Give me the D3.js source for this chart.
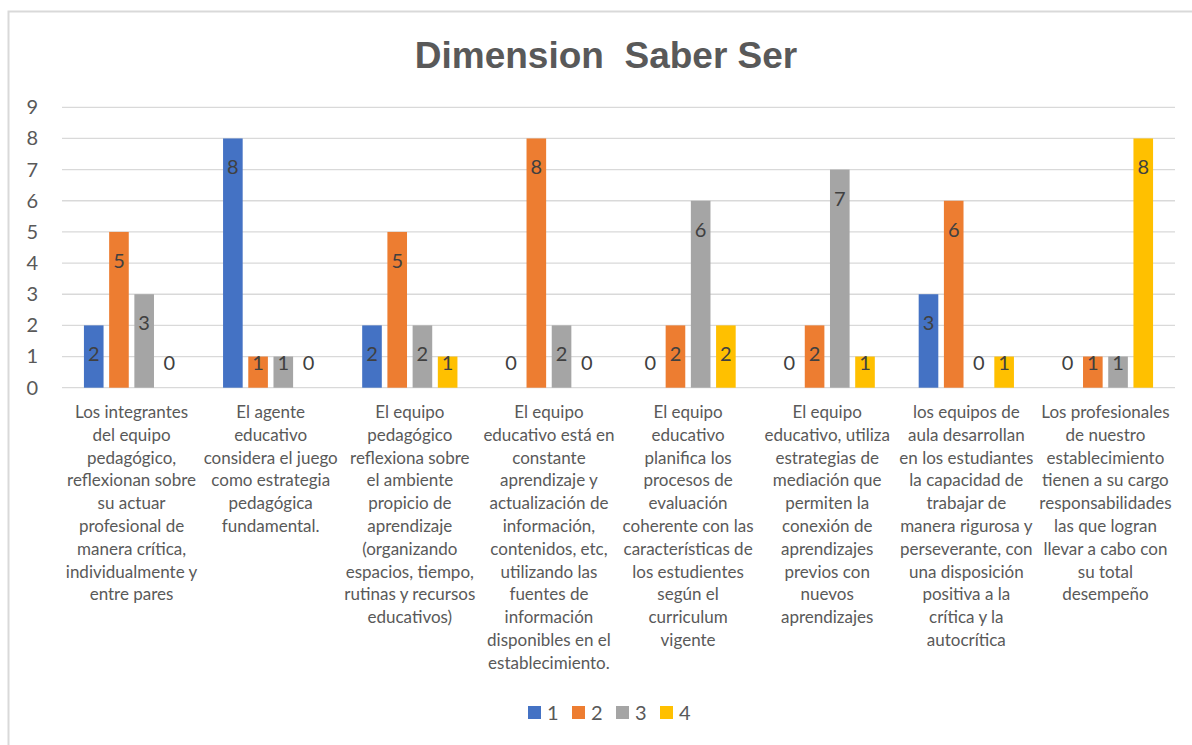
<!DOCTYPE html>
<html lang="es">
<head>
<meta charset="utf-8">
<script src="https://d3js.org/d3.v7.min.js"></script>
<style>
  body { margin: 0; background: #fff; }
  svg text { font-family: Lato, "Open Sans", sans-serif; }
</style>
</head>
<body>
<script>
    // categories (line breaks as in the original chart)
    const categories = [
        ["Los integrantes", "del equipo", "pedagógico,", "reflexionan sobre", "su actuar", "profesional de", "manera crítica,", "individualmente y", "entre pares"],
        ["El agente", "educativo", "considera el juego", "como estrategia", "pedagógica", "fundamental."],
        ["El equipo", "pedagógico", "reflexiona sobre", "el ambiente", "propicio de", "aprendizaje", "(organizando", "espacios, tiempo,", "rutinas y recursos", "educativos)"],
        ["El equipo", "educativo está en", "constante", "aprendizaje y", "actualización de", "información,", "contenidos, etc,", "utilizando las", "fuentes de", "información", "disponibles en el", "establecimiento."],
        ["El equipo", "educativo", "planifica los", "procesos de", "evaluación", "coherente con las", "características de", "los estudientes", "según el", "curriculum", "vigente"],
        ["El equipo", "educativo, utiliza", "estrategias de", "mediación que", "permiten la", "conexión de", "aprendizajes", "previos con", "nuevos", "aprendizajes"],
        ["los equipos de", "aula desarrollan", "en los estudiantes", "la capacidad de", "trabajar de", "manera rigurosa y", "perseverante, con", "una disposición", "positiva a la", "crítica y la", "autocrítica"],
        ["Los profesionales", "de nuestro", "establecimiento", "tienen a su cargo", "responsabilidades", "las que logran", "llevar a cabo con", "su total", "desempeño"]
    ];
    const seriesNames = ["1", "2", "3", "4"];
    const seriesColors = ["#4472C4", "#ED7D31", "#A5A5A5", "#FFC000"];
    const s1 = [2, 8, 2, 0, 0, 0, 3, 0];
    const s2 = [5, 1, 5, 8, 2, 2, 6, 1];
    const s3 = [3, 1, 2, 2, 6, 7, 0, 1];
    const s4 = [0, 0, 1, 0, 2, 1, 1, 8];
    const yTicks = [0, 1, 2, 3, 4, 5, 6, 7, 8, 9];

    const W = 1192, H = 745;
    const plotLeft = 62, plotRight = 1175, plotTop = 107.3, plotBottom = 387.7;
    const seriesVals = [s1, s2, s3, s4];

    const svg = d3.select("body").append("svg")
        .attr("width", W).attr("height", H);

    // outer frame
    svg.append("rect")
        .attr("x", 8.5).attr("y", 11.5)
        .attr("width", 1200).attr("height", 800)
        .attr("fill", "none").attr("stroke", "#d9d9d9").attr("stroke-width", 2);

    // title
    svg.append("text")
        .attr("x", 606).attr("y", 68)
        .attr("text-anchor", "middle")
        .attr("xml:space", "preserve")
        .style("font-family", "'Liberation Sans', Arial, sans-serif")
        .style("font-weight", "bold")
        .style("font-size", "37px")
        .attr("fill", "#595959")
        .text("Dimension  Saber Ser");

    const catIdx = d3.range(categories.length);
    const x0 = d3.scaleBand().domain(catIdx).range([plotLeft, plotRight]).padding(0);
    const x1 = d3.scaleBand().domain(d3.range(seriesNames.length))
        .range([0, x0.bandwidth()]).paddingInner(0.222).paddingOuter(0.87);
    const y = d3.scaleLinear().domain([0, 9]).range([plotBottom, plotTop]);

    // gridlines
    svg.append("g").selectAll("line")
        .data(yTicks)
        .join("line")
        .attr("x1", plotLeft).attr("x2", plotRight)
        .attr("y1", d => y(d)).attr("y2", d => y(d))
        .attr("stroke", "#d9d9d9").attr("stroke-width", 1.3);

    // y axis labels
    const yAxis = svg.append("g")
        .attr("transform", `translate(${plotLeft - 24},0)`)
        .call(d3.axisLeft(y).tickValues(yTicks).tickSize(0).tickPadding(0));
    yAxis.select(".domain").remove();
    yAxis.selectAll("text")
        .style("font-size", "20px")
        .attr("fill", "#595959");

    // bars
    const groups = svg.append("g").selectAll("g")
        .data(catIdx)
        .join("g")
        .attr("transform", i => `translate(${x0(i)},0)`);

    groups.selectAll("rect")
        .data(i => seriesVals.map((s, k) => ({ k, v: s[i] })))
        .join("rect")
        .attr("x", d => x1(d.k))
        .attr("width", x1.bandwidth())
        .attr("y", d => y(d.v))
        .attr("height", d => y(0) - y(d.v))
        .attr("fill", d => seriesColors[d.k]);

    groups.selectAll("text")
        .data(i => seriesVals.map((s, k) => ({ k, v: s[i] })))
        .join("text")
        .attr("x", d => x1(d.k) + x1.bandwidth() / 2)
        .attr("y", d => Math.min(y(d.v) + 29, y(0) - 25))
        .attr("dy", "0.35em")
        .attr("text-anchor", "middle")
        .style("font-size", "20px")
        .attr("fill", "#404040")
        .text(d => d.v);

    // category labels
    const catLabels = svg.append("g").selectAll("text")
        .data(catIdx)
        .join("text")
        .attr("text-anchor", "middle")
        .style("font-size", "17px")
        .attr("fill", "#595959");
    catLabels.selectAll("tspan")
        .data(i => categories[i].map(line => ({ i, line })))
        .join("tspan")
        .attr("x", d => x0(d.i) + x0.bandwidth() / 2)
        .attr("y", (d, j) => 418 + j * 22.8)
        .text(d => d.line);

    // legend
    const legend = svg.append("g").attr("transform", "translate(528,706)");
    const item = legend.selectAll("g")
        .data(seriesNames)
        .join("g")
        .attr("transform", (d, k) => `translate(${k * 44},0)`);
    item.append("rect")
        .attr("width", 13).attr("height", 13)
        .attr("fill", (d, k) => seriesColors[k]);
    item.append("text")
        .attr("x", 19).attr("y", 6.5).attr("dy", "0.35em")
        .style("font-size", "20px")
        .attr("fill", "#595959")
        .text(d => d);
</script>
</body>
</html>
